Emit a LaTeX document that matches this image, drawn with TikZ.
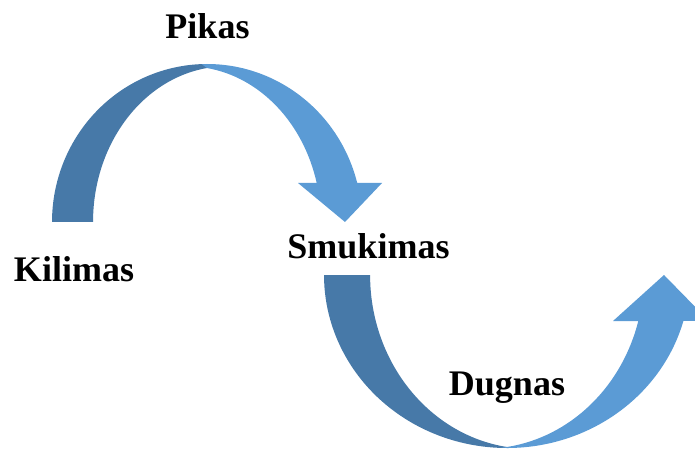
\documentclass[tikz,border=0pt]{standalone}
\usepackage{fontspec}
\setmainfont{Liberation Serif}
\definecolor{bandDark}{RGB}{71,121,168}
\definecolor{bandLight}{RGB}{91,155,213}
\tikzset{
  lbl/.style={font=\bfseries\fontsize{36}{36}\selectfont, anchor=base, inner sep=0pt, text=black},
  darkband/.style={fill=bandDark, draw=none},
  lightband/.style={fill=bandLight, draw=none}
}
\begin{document}
\begin{tikzpicture}[x=1pt,y=1pt]
\useasboundingbox (0,0) rectangle (695,450);
\clip (0,0) rectangle (695,450);
% ---- upper arrow (Kilimas -> Pikas -> Smukimas)
\coordinate (top1) at (207,382);
\path[darkband] (52,228)
  arc[start angle=180,end angle=88,x radius=155,y radius=158]
  -- (top1)
  arc[start angle=98.6,end angle=180,x radius=134,y radius=155.7] -- cycle;
\path[lightband] (201.6,385.9)
  arc[start angle=92,end angle=14.3,x radius=155,y radius=158]
  -- (382,267) -- (345,228) -- (298,267) -- (316.7,267)
  arc[start angle=14.5,end angle=81.4,x radius=134,y radius=155.7] -- cycle;
% ---- lower arrow (Smukimas -> Dugnas -> up)
\coordinate (bot2) at (507,3);
\path[darkband] (324,175)
  arc[start angle=180,end angle=272,x radius=183,y radius=173]
  -- (bot2)
  arc[start angle=261.7,end angle=180,x radius=160,y radius=173.8] -- cycle;
\path[lightband] (500.6,2.1)
  arc[start angle=268,end angle=344.6,x radius=183,y radius=173]
  -- (709,129) -- (664,175) -- (613,129) -- (638.3,129)
  arc[start angle=344.65,end angle=278.3,x radius=160,y radius=173.8] -- cycle;
% ---- labels
\node[lbl] (pikas) at (207.5,411) {Pikas};
\node[lbl] (kilimas) at (74,168) {Kilimas};
\node[lbl] (smukimas) at (368.5,192) {Smukimas};
\node[lbl] (dugnas) at (507,55) {Dugnas};
\end{tikzpicture}
\end{document}
